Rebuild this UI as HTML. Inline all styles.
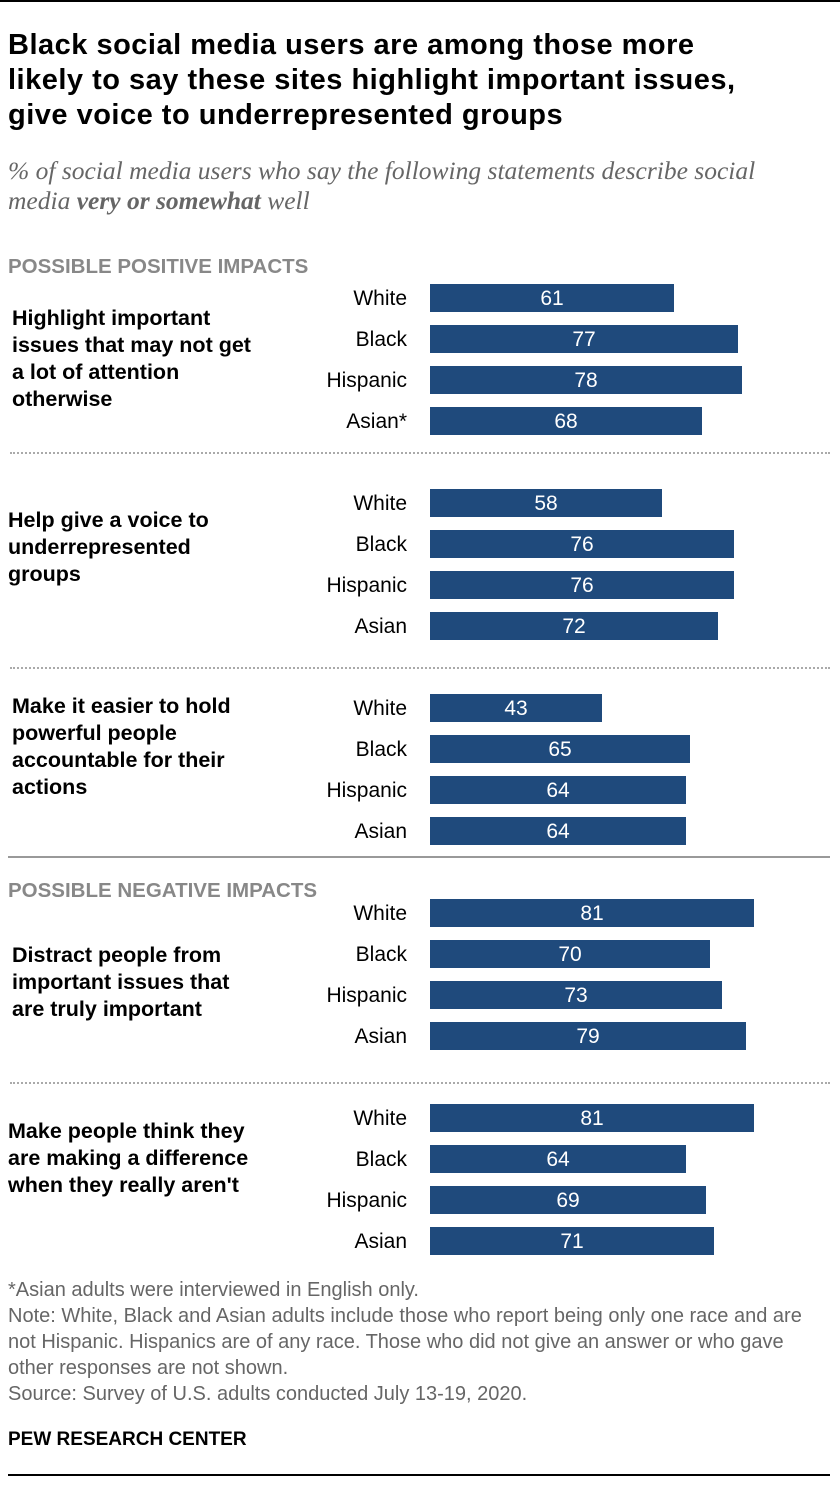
<!DOCTYPE html>
<html><head><meta charset="utf-8">
<style>
body{margin:0;background:#fff;width:840px;height:1486px;overflow:hidden;font-family:"Liberation Sans",Arial,sans-serif;position:relative}
.abs{position:absolute;white-space:nowrap}
.title{left:8px;top:28px;font-size:29px;font-weight:bold;line-height:35px;color:#000;letter-spacing:0.5px}
.sub{left:8px;top:156px;font-size:25.5px;font-style:italic;line-height:30px;color:#666;font-family:"Liberation Serif",serif}
.sec{font-size:20.5px;font-weight:bold;color:#888;left:8px}
.q{left:12px;font-size:21.5px;font-weight:bold;line-height:27px;color:#000}
.foot{left:8px;font-size:20px;color:#666;line-height:26px}
</style></head><body>
<div class="abs" style="left:0;top:0;width:840px;height:2px;background:#000"></div>
<div class="abs title">Black social media users are among those more<br>likely to say these sites highlight important issues,<br>give voice to underrepresented groups</div>
<div class="abs sub">% of social media users who say the following statements describe social<br>media <b>very or somewhat</b> well</div>
<div class="abs sec" style="top:255px">POSSIBLE POSITIVE IMPACTS</div>
<div class="abs sec" style="top:879px">POSSIBLE NEGATIVE IMPACTS</div>
<div class="abs q" style="top:305px">Highlight important<br>issues that may not get<br>a lot of attention<br>otherwise</div>
<div class="abs q" style="top:507px;left:8px">Help give a voice to<br>underrepresented<br>groups</div>
<div class="abs q" style="top:693px">Make it easier to hold<br>powerful people<br>accountable for their<br>actions</div>
<div class="abs q" style="top:942px">Distract people from<br>important issues that<br>are truly important</div>
<div class="abs q" style="top:1118px;left:8px">Make people think they<br>are making a difference<br>when they really aren't</div>
<div class="abs" style="left:10px;top:452px;width:820px;border-top:2px dotted #aaa"></div>
<div class="abs" style="left:10px;top:667px;width:820px;border-top:2px dotted #aaa"></div>
<div class="abs" style="left:8px;top:856px;width:822px;height:2px;background:#999"></div>
<div class="abs" style="left:10px;top:1082px;width:820px;border-top:2px dotted #aaa"></div>
<svg class="abs" style="left:0;top:0" width="840" height="1486" id="chart"></svg>
<div class="abs foot" style="top:1277px">*Asian adults were interviewed in English only.<br>Note: White, Black and Asian adults include those who report being only one race and are<br>not Hispanic. Hispanics are of any race. Those who did not give an answer or who gave<br>other responses are not shown.<br>Source: Survey of U.S. adults conducted July 13-19, 2020.</div>
<div class="abs" style="left:8px;top:1429px;font-size:19px;font-weight:bold;color:#000">PEW RESEARCH CENTER</div>
<div class="abs" style="left:8px;top:1474px;width:822px;height:2px;background:#000"></div>
<script>
const groups=["Highlight important issues","Give voice","Hold accountable","Distract","False difference"];
const races=["White","Black","Hispanic","Asian"];
const raceLabels=[["White","Black","Hispanic","Asian*"],["White","Black","Hispanic","Asian"],["White","Black","Hispanic","Asian"],["White","Black","Hispanic","Asian"],["White","Black","Hispanic","Asian"]];
const values=[[61,77,78,68],[58,76,76,72],[43,65,64,64],[81,70,73,79],[81,64,69,71]];
const svg=document.getElementById('chart');
const NS='http://www.w3.org/2000/svg';
const x=v=>v*4;
const rowY=(g,r)=>298+g*205+r*41;
values.forEach((vals,g)=>{vals.forEach((v,r)=>{
 const cy=rowY(g,r);
 const rect=document.createElementNS(NS,'rect');
 
 
 rect.setAttribute('x',430);rect.setAttribute('y',cy-14);rect.setAttribute('width',x(v));rect.setAttribute('height',28);rect.setAttribute('fill','#1f4a7c');
 svg.appendChild(rect);
 const t=document.createElementNS(NS,'text');
 
 
 t.setAttribute('x',430+x(v)/2);t.setAttribute('y',cy+7);t.setAttribute('text-anchor','middle');t.setAttribute('fill','#fff');t.setAttribute('font-size','21');t.setAttribute('font-family','Liberation Sans, sans-serif');
 t.textContent=v;svg.appendChild(t);
 const l=document.createElementNS(NS,'text');
 
 
 l.setAttribute('x',407);l.setAttribute('y',cy+7);l.setAttribute('text-anchor','end');l.setAttribute('fill','#000');l.setAttribute('font-size','21');l.setAttribute('font-family','Liberation Sans, sans-serif');
 l.textContent=raceLabels[g][r];svg.appendChild(l);
});});
</script>
</body></html>
